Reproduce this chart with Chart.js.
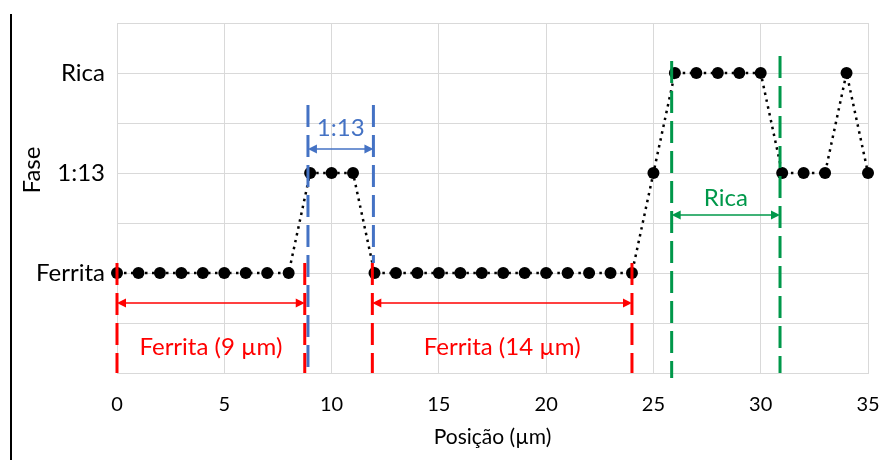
<!DOCTYPE html>
<html>
<head>
<meta charset="utf-8">
<script src="https://cdn.jsdelivr.net/npm/chart.js@4.4.1/dist/chart.umd.min.js"></script>
<style>
  html, body { margin: 0; padding: 0; background: #fff; }
  #wrap { position: relative; width: 880px; height: 460px; }
  #wrap canvas { position: absolute; left: 0; top: 0; }
  #edge { position: absolute; left: 10px; top: 14px; width: 2px; height: 446px; background: #000; }
</style>
</head>
<body>
<div id="wrap">
  <canvas id="c" width="880" height="460"></canvas>
  <div id="edge"></div>
</div>
<script>
// Measurement positions along the line scan (µm)
const positions = [0, 1, 2, 3, 4, 5, 6, 7, 8, 9, 10, 11, 12, 13, 14, 15, 16, 17,
                   18, 19, 20, 21, 22, 23, 24, 25, 26, 27, 28, 29, 30, 31, 32, 33, 34, 35];
// Phase found at each position: 1 = Ferrita, 2 = 1:13, 3 = Rica
const phaseLevels = [1, 1, 1, 1, 1, 1, 1, 1, 1, 2, 2, 2, 1, 1, 1, 1, 1, 1,
                     1, 1, 1, 1, 1, 1, 1, 2, 3, 3, 3, 3, 3, 2, 2, 2, 3, 2];
const phaseTicks = [1, 2, 3];
const phaseLabels = ['Ferrita', '1:13', 'Rica'];
const xTicks = [0, 5, 10, 15, 20, 25, 30, 35];

// Dashed boundary markers (x in µm, vertical extent in phase units)
const boundaryX   = [25.85, 30.9, 8.9, 11.95, 0, 8.75, 11.9, 24];
const boundaryTop = [3.12, 3.17, 2.68, 2.68, 1.1, 1.1, 1.1, 1.1];
const boundaryBot = [-0.05, 0, 0, 1.1, 0, 0, 0, 0];
const boundaryKind = ['rica', 'rica', 'mid', 'mid', 'fer', 'fer', 'fer', 'fer'];

// Width spans with their labels
const spanFrom  = [0, 11.9, 8.9, 25.85];
const spanTo    = [8.75, 24, 11.95, 30.9];
const spanLevel = [0.7, 0.7, 2.24, 1.58];
const spanText  = ['Ferrita (9 µm)', 'Ferrita (14 µm)', '1:13', 'Rica'];
const spanTextLevel = [0.26, 0.26, 2.45, 1.75];
const spanKind  = ['fer', 'fer', 'mid', 'rica'];

const kindColor = { fer: '#ff0000', mid: '#4472c4', rica: '#00984a' };
const FONT = 'Lato, "Open Sans", sans-serif';

const annotate = {
  id: 'annotate',
  afterDatasetsDraw(chart) {
    const { ctx, scales: { x, y } } = chart;
    ctx.save();
    // vertical dashed boundaries
    ctx.lineWidth = 3;
    ctx.setLineDash([22, 8]);
    boundaryX.forEach((bx, i) => {
      const px = x.getPixelForValue(bx);
      ctx.strokeStyle = kindColor[boundaryKind[i]];
      ctx.beginPath();
      ctx.moveTo(px, y.getPixelForValue(boundaryTop[i]));
      ctx.lineTo(px, y.getPixelForValue(boundaryBot[i]));
      ctx.stroke();
    });
    ctx.setLineDash([]);
    // double-headed arrows and labels
    spanFrom.forEach((f, i) => {
      const col = kindColor[spanKind[i]];
      const x0 = x.getPixelForValue(f);
      const x1 = x.getPixelForValue(spanTo[i]);
      const py = y.getPixelForValue(spanLevel[i]);
      const head = 9, half = 4.5;
      ctx.strokeStyle = col;
      ctx.fillStyle = col;
      ctx.lineWidth = 1.3;
      ctx.beginPath();
      ctx.moveTo(x0 + head - 1, py);
      ctx.lineTo(x1 - head + 1, py);
      ctx.stroke();
      ctx.beginPath();
      ctx.moveTo(x0, py); ctx.lineTo(x0 + head, py - half); ctx.lineTo(x0 + head, py + half); ctx.closePath();
      ctx.fill();
      ctx.beginPath();
      ctx.moveTo(x1, py); ctx.lineTo(x1 - head, py - half); ctx.lineTo(x1 - head, py + half); ctx.closePath();
      ctx.fill();
      ctx.font = '24px ' + FONT;
      ctx.textAlign = 'center';
      ctx.textBaseline = 'middle';
      ctx.fillText(spanText[i], (x0 + x1) / 2, y.getPixelForValue(spanTextLevel[i]));
    });
    ctx.restore();
  },
  afterDraw(chart) {
    const { ctx } = chart;
    ctx.save();
    ctx.translate(32, 170);
    ctx.rotate(-Math.PI / 2);
    ctx.font = '24px ' + FONT;
    ctx.fillStyle = '#000';
    ctx.textAlign = 'center';
    ctx.textBaseline = 'middle';
    ctx.fillText('Fase', 0, 0);
    ctx.restore();
  }
};

new Chart(document.getElementById('c'), {
  type: 'line',
  data: {
    datasets: [{
      data: positions.map((p, i) => ({ x: p, y: phaseLevels[i] })),
      borderColor: '#000',
      borderWidth: 2.5,
      borderDash: [2.5, 4.5],
      pointRadius: 6,
      pointHoverRadius: 6,
      pointBackgroundColor: '#000',
      pointBorderWidth: 0,
      tension: 0,
      clip: false
    }]
  },
  options: {
    responsive: false,
    animation: false,
    devicePixelRatio: 1,
    layout: { padding: { top: 23, right: 12, left: 0, bottom: 10 } },
    plugins: { legend: { display: false }, tooltip: { enabled: false } },
    scales: {
      x: {
        type: 'linear',
        min: 0, max: 35,
        afterBuildTicks: s => { s.ticks = xTicks.map(v => ({ value: v })); },
        afterFit: s => { s.height = 77; s.paddingLeft = 0; s.paddingRight = 0; },
        grid: { color: '#d9d9d9', lineWidth: 1, drawTicks: false },
        border: { color: '#d9d9d9' },
        ticks: { padding: 20, color: '#000', font: { family: FONT, size: 20 } },
        title: { display: true, text: 'Posição (µm)', color: '#000', font: { family: FONT, size: 21 }, padding: 0 }
      },
      y: {
        type: 'linear',
        min: 0, max: 3.5,
        ticks: {
          stepSize: 0.5,
          padding: 12,
          color: '#000',
          font: { family: FONT, size: 24 },
          callback: v => { const k = phaseTicks.indexOf(v); return k >= 0 ? phaseLabels[k] : ''; }
        },
        afterFit: s => { s.width = 117; s.paddingTop = 0; s.paddingBottom = 0; },
        grid: { color: '#d9d9d9', lineWidth: 1, drawTicks: false },
        border: { color: '#d9d9d9' }
      }
    }
  },
  plugins: [annotate]
});
</script>
</body>
</html>
